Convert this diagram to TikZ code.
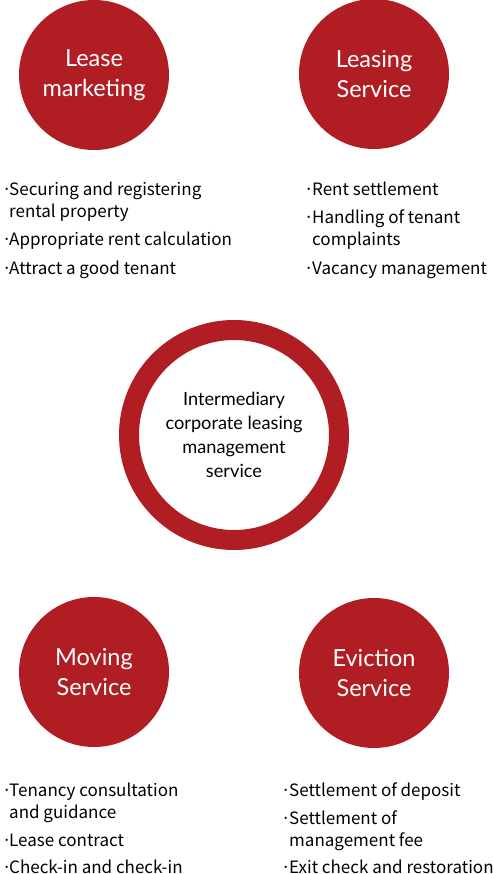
\documentclass[tikz,border=0pt]{standalone}
\usepackage{fontspec}
\setmainfont{Noto Sans CJK KR}
\newfontfamily\circfont{Lato}
\definecolor{brand}{RGB}{176,30,35}
\tikzset{
  disc/.style={circle, fill=brand, draw=none, minimum size=150pt, inner sep=0pt,
    text=white, align=center, font=\circfont\fontsize{23.5}{29.5}\selectfont},
  ring/.style={circle, draw=brand, line width=20pt, minimum size=210pt, inner sep=0pt,
    align=center, font=\circfont\fontsize{18.2}{24}\selectfont},
  li/.style={anchor=base west, inner sep=0pt, font=\fontsize{17}{22}\selectfont},
  dot/.style={anchor=base west, inner sep=0pt, font=\fontsize{17}{22}\selectfont}
}
\begin{document}
\begin{tikzpicture}[x=1pt,y=-1pt]
\useasboundingbox (0,0) rectangle (494,874);
\node[disc] (lm) at (94,75) {Lease\\marketing};
\node[disc] (ls) at (374,74) {Leasing\\Service};
\node[ring] (core) at (234,435) {Intermediary\\corporate leasing\\management\\service};
\node[disc] (ms) at (94,672) {Moving\\Service};
\node[disc] (es) at (374,673) {Eviction\\Service};
% top-left list
\node[dot] (d1) at (2,196) {·};
\node[li] (t1) at (9,196) {Securing and registering};
\node[li] (t1b) at (9,218) {rental property};
\node[dot] (d2) at (2,246) {·};
\node[li] (t2) at (9,246) {Appropriate rent calculation};
\node[dot] (d3) at (2,274) {·};
\node[li] (t3) at (9,274) {Attract a good tenant};
% top-right list
\node[dot] (d4) at (304,196) {·};
\node[li] (t4) at (312,196) {Rent settlement};
\node[dot] (d5) at (304,224) {·};
\node[li] (t5) at (312,224) {Handling of tenant};
\node[li] (t5b) at (312,246) {complaints};
\node[dot] (d6) at (304,274) {·};
\node[li] (t6) at (312,274) {Vacancy management};
% bottom-left list
\node[dot] (d7) at (2,796) {·};
\node[li] (t7) at (9,796) {Tenancy consultation};
\node[li] (t7b) at (9,818) {and guidance};
\node[dot] (d8) at (2,846) {·};
\node[li] (t8) at (9,846) {Lease contract};
\node[dot] (d9) at (2,873) {·};
\node[li] (t9) at (9,873) {Check-in and check-in};
% bottom-right list
\node[dot] (d10) at (281,796) {·};
\node[li] (t10) at (289,796) {Settlement of deposit};
\node[dot] (d11) at (281,824) {·};
\node[li] (t11) at (289,824) {Settlement of};
\node[li] (t11b) at (289,846) {management fee};
\node[dot] (d12) at (281,873) {·};
\node[li] (t12) at (289,873) {Exit check and restoration};
\end{tikzpicture}
\end{document}
